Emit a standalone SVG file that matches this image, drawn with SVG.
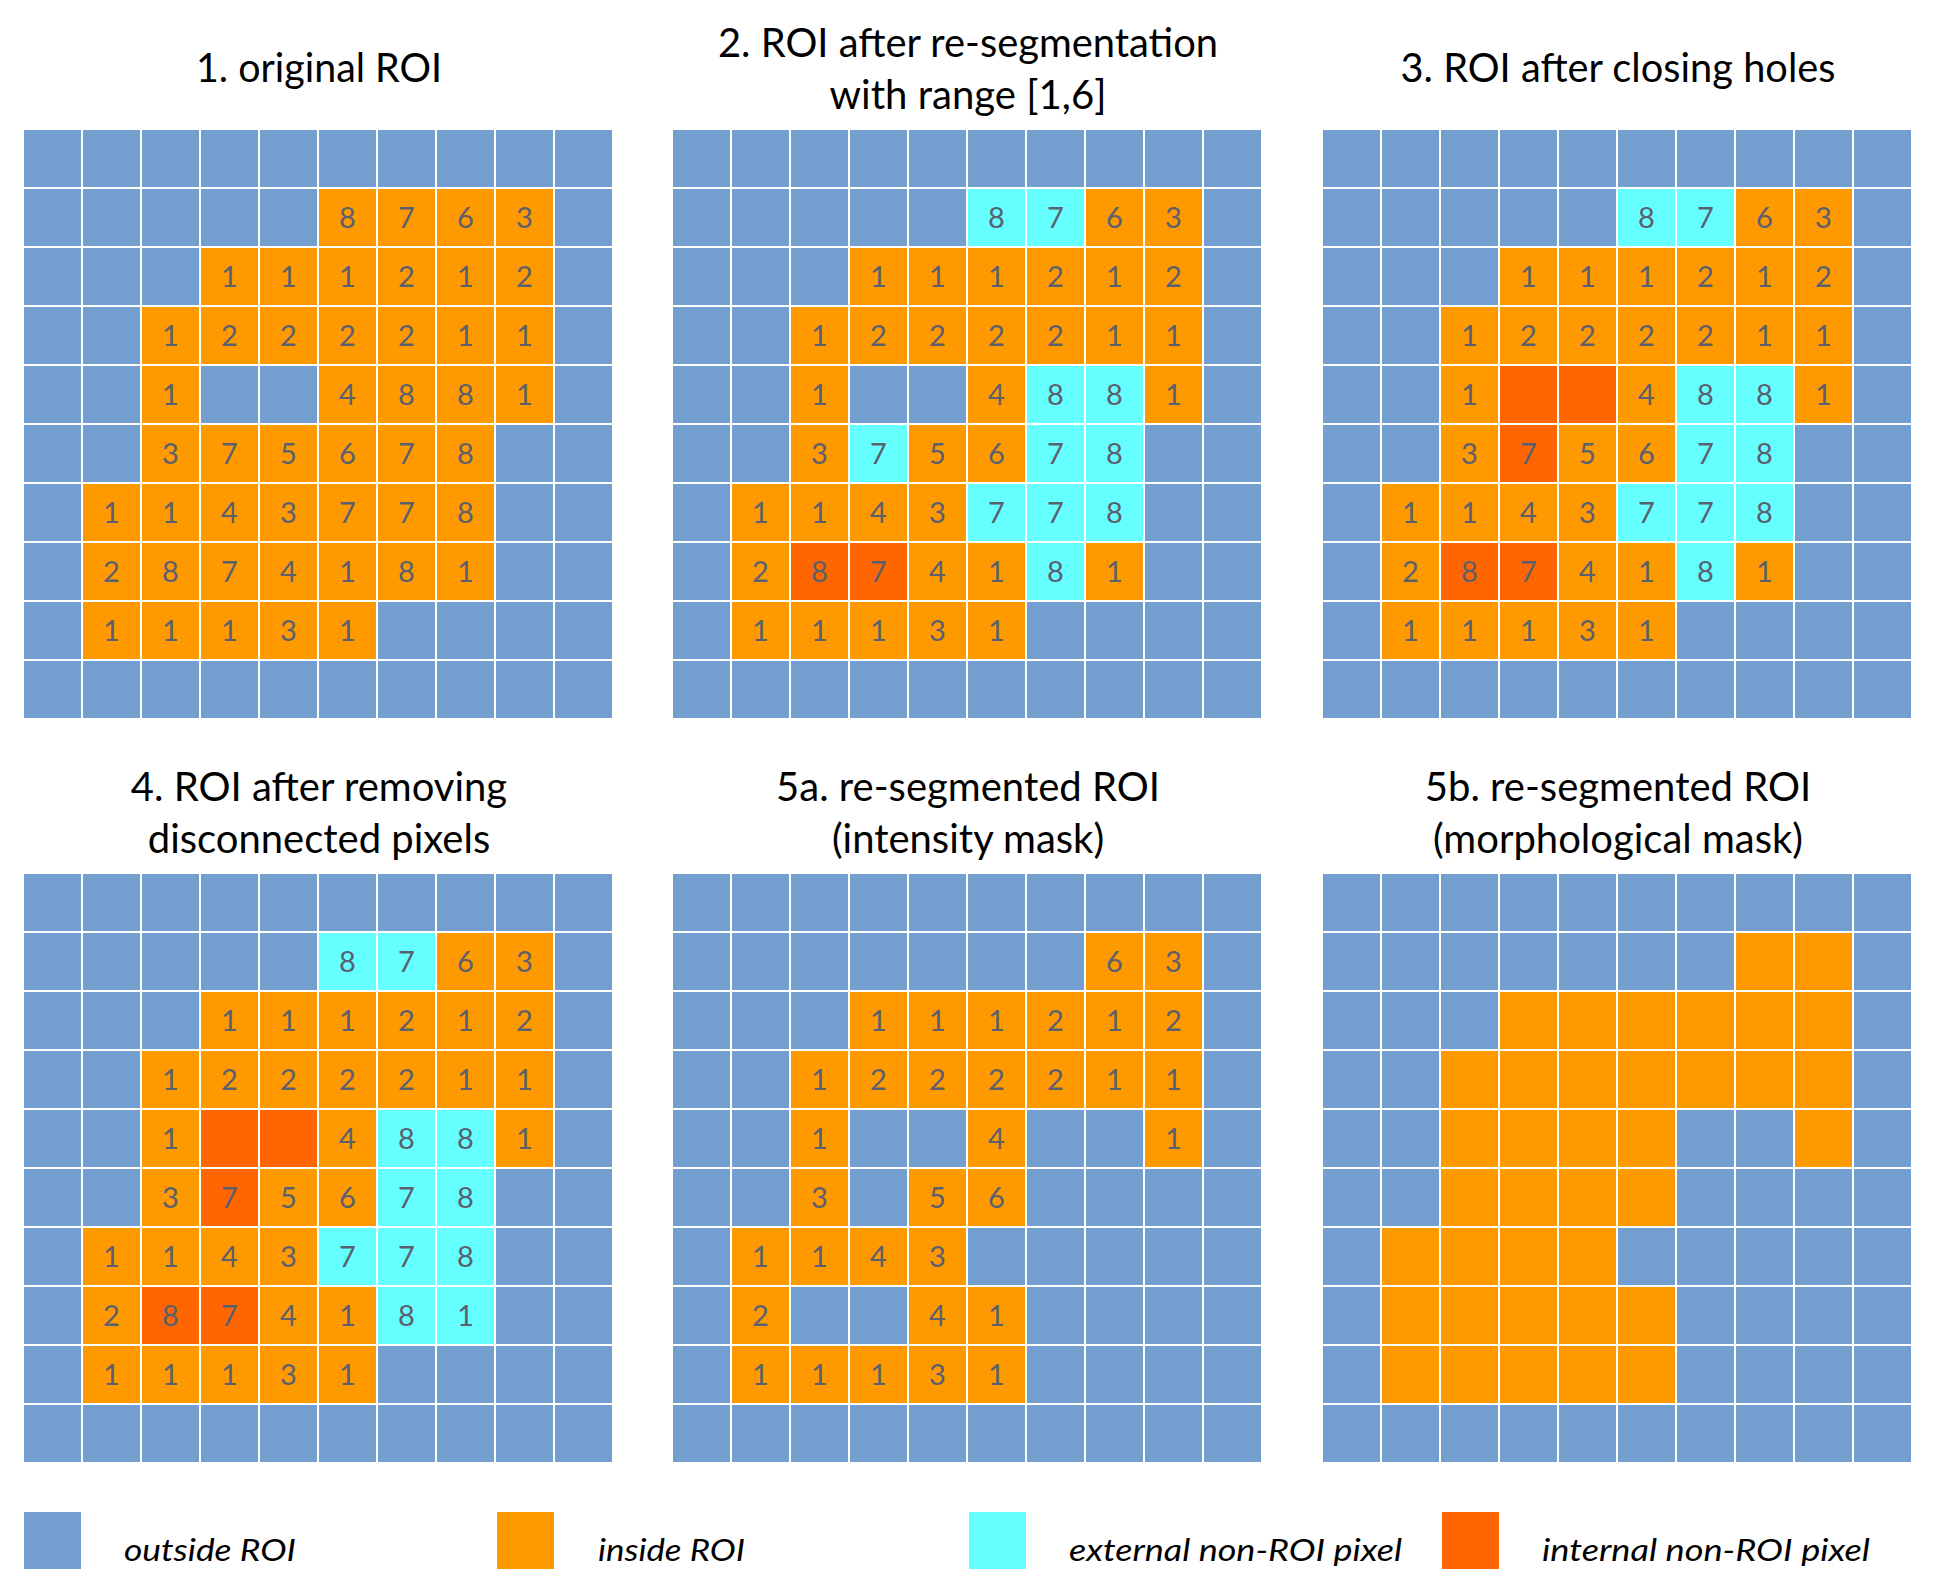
<svg xmlns="http://www.w3.org/2000/svg" xmlns:xlink="http://www.w3.org/1999/xlink" width="1937" height="1594" viewBox="0 0 1937 1594">
<style>
.t{font-family:Lato,"Liberation Sans",sans-serif;font-size:40px;fill:#000;text-anchor:middle}
.n{font-family:Lato,"Liberation Sans",sans-serif;font-size:29px;fill:#5a606d;text-anchor:middle}
.l{font-family:Lato,"Liberation Sans",sans-serif;font-size:31px;font-style:italic;fill:#000}
</style>
<defs>
<pattern id="grid" patternUnits="userSpaceOnUse" width="59" height="59"><rect width="57" height="57" fill="#729FCF"/></pattern>
<rect id="o" width="57" height="57" fill="#FF9900"/>
<rect id="c" width="57" height="57" fill="#66FFFF"/>
<rect id="r" width="57" height="57" fill="#FF6600"/>
<rect id="b" width="57" height="57" fill="#729FCF"/>
</defs>
<rect width="1937" height="1594" fill="#fff"/>

<g id="titles">
<text class="t" x="319" y="82" textLength="246" lengthAdjust="spacingAndGlyphs">1. original ROI</text>
<text class="t" x="968" y="57" textLength="500" lengthAdjust="spacingAndGlyphs">2. ROI after re-segmentation</text>
<text class="t" x="968" y="109" textLength="277" lengthAdjust="spacingAndGlyphs">with range [1,6]</text>
<text class="t" x="1618" y="82" textLength="435" lengthAdjust="spacingAndGlyphs">3. ROI after closing holes</text>
<text class="t" x="319" y="801">4. ROI after removing</text>
<text class="t" x="319" y="853">disconnected pixels</text>
<text class="t" x="968" y="801">5a. re-segmented ROI</text>
<text class="t" x="968" y="853">(intensity mask)</text>
<text class="t" x="1618" y="801">5b. re-segmented ROI</text>
<text class="t" x="1618" y="853">(morphological mask)</text>
</g>

<g id="panel1" transform="translate(24,130)">
<rect width="590" height="590" fill="url(#grid)"/>
<use href="#o" x="295" y="59"/><use href="#o" x="354" y="59"/><use href="#o" x="413" y="59"/><use href="#o" x="472" y="59"/>
<use href="#o" x="177" y="118"/><use href="#o" x="236" y="118"/><use href="#o" x="295" y="118"/><use href="#o" x="354" y="118"/><use href="#o" x="413" y="118"/><use href="#o" x="472" y="118"/>
<use href="#o" x="118" y="177"/><use href="#o" x="177" y="177"/><use href="#o" x="236" y="177"/><use href="#o" x="295" y="177"/><use href="#o" x="354" y="177"/><use href="#o" x="413" y="177"/><use href="#o" x="472" y="177"/>
<use href="#o" x="118" y="236"/><use href="#o" x="295" y="236"/><use href="#o" x="354" y="236"/><use href="#o" x="413" y="236"/><use href="#o" x="472" y="236"/>
<use href="#o" x="118" y="295"/><use href="#o" x="177" y="295"/><use href="#o" x="236" y="295"/><use href="#o" x="295" y="295"/><use href="#o" x="354" y="295"/><use href="#o" x="413" y="295"/>
<use href="#o" x="59" y="354"/><use href="#o" x="118" y="354"/><use href="#o" x="177" y="354"/><use href="#o" x="236" y="354"/><use href="#o" x="295" y="354"/><use href="#o" x="354" y="354"/><use href="#o" x="413" y="354"/>
<use href="#o" x="59" y="413"/><use href="#o" x="118" y="413"/><use href="#o" x="177" y="413"/><use href="#o" x="236" y="413"/><use href="#o" x="295" y="413"/><use href="#o" x="354" y="413"/><use href="#o" x="413" y="413"/>
<use href="#o" x="59" y="472"/><use href="#o" x="118" y="472"/><use href="#o" x="177" y="472"/><use href="#o" x="236" y="472"/><use href="#o" x="295" y="472"/>
<text class="n" x="323.5" y="98">8</text><text class="n" x="382.5" y="98">7</text><text class="n" x="441.5" y="98">6</text><text class="n" x="500.5" y="98">3</text>
<text class="n" x="205.5" y="157">1</text><text class="n" x="264.5" y="157">1</text><text class="n" x="323.5" y="157">1</text><text class="n" x="382.5" y="157">2</text><text class="n" x="441.5" y="157">1</text><text class="n" x="500.5" y="157">2</text>
<text class="n" x="146.5" y="216">1</text><text class="n" x="205.5" y="216">2</text><text class="n" x="264.5" y="216">2</text><text class="n" x="323.5" y="216">2</text><text class="n" x="382.5" y="216">2</text><text class="n" x="441.5" y="216">1</text><text class="n" x="500.5" y="216">1</text>
<text class="n" x="146.5" y="275">1</text><text class="n" x="323.5" y="275">4</text><text class="n" x="382.5" y="275">8</text><text class="n" x="441.5" y="275">8</text><text class="n" x="500.5" y="275">1</text>
<text class="n" x="146.5" y="334">3</text><text class="n" x="205.5" y="334">7</text><text class="n" x="264.5" y="334">5</text><text class="n" x="323.5" y="334">6</text><text class="n" x="382.5" y="334">7</text><text class="n" x="441.5" y="334">8</text>
<text class="n" x="87.5" y="393">1</text><text class="n" x="146.5" y="393">1</text><text class="n" x="205.5" y="393">4</text><text class="n" x="264.5" y="393">3</text><text class="n" x="323.5" y="393">7</text><text class="n" x="382.5" y="393">7</text><text class="n" x="441.5" y="393">8</text>
<text class="n" x="87.5" y="452">2</text><text class="n" x="146.5" y="452">8</text><text class="n" x="205.5" y="452">7</text><text class="n" x="264.5" y="452">4</text><text class="n" x="323.5" y="452">1</text><text class="n" x="382.5" y="452">8</text><text class="n" x="441.5" y="452">1</text>
<text class="n" x="87.5" y="511">1</text><text class="n" x="146.5" y="511">1</text><text class="n" x="205.5" y="511">1</text><text class="n" x="264.5" y="511">3</text><text class="n" x="323.5" y="511">1</text>
</g>

<g id="panel2" transform="translate(673,130)">
<rect width="590" height="590" fill="url(#grid)"/>
<use href="#c" x="295" y="59"/><use href="#c" x="354" y="59"/><use href="#o" x="413" y="59"/><use href="#o" x="472" y="59"/>
<use href="#o" x="177" y="118"/><use href="#o" x="236" y="118"/><use href="#o" x="295" y="118"/><use href="#o" x="354" y="118"/><use href="#o" x="413" y="118"/><use href="#o" x="472" y="118"/>
<use href="#o" x="118" y="177"/><use href="#o" x="177" y="177"/><use href="#o" x="236" y="177"/><use href="#o" x="295" y="177"/><use href="#o" x="354" y="177"/><use href="#o" x="413" y="177"/><use href="#o" x="472" y="177"/>
<use href="#o" x="118" y="236"/><use href="#o" x="295" y="236"/><use href="#c" x="354" y="236"/><use href="#c" x="413" y="236"/><use href="#o" x="472" y="236"/>
<use href="#o" x="118" y="295"/><use href="#c" x="177" y="295"/><use href="#o" x="236" y="295"/><use href="#o" x="295" y="295"/><use href="#c" x="354" y="295"/><use href="#c" x="413" y="295"/>
<use href="#o" x="59" y="354"/><use href="#o" x="118" y="354"/><use href="#o" x="177" y="354"/><use href="#o" x="236" y="354"/><use href="#c" x="295" y="354"/><use href="#c" x="354" y="354"/><use href="#c" x="413" y="354"/>
<use href="#o" x="59" y="413"/><use href="#r" x="118" y="413"/><use href="#r" x="177" y="413"/><use href="#o" x="236" y="413"/><use href="#o" x="295" y="413"/><use href="#c" x="354" y="413"/><use href="#o" x="413" y="413"/>
<use href="#o" x="59" y="472"/><use href="#o" x="118" y="472"/><use href="#o" x="177" y="472"/><use href="#o" x="236" y="472"/><use href="#o" x="295" y="472"/>
<text class="n" x="323.5" y="98">8</text><text class="n" x="382.5" y="98">7</text><text class="n" x="441.5" y="98">6</text><text class="n" x="500.5" y="98">3</text>
<text class="n" x="205.5" y="157">1</text><text class="n" x="264.5" y="157">1</text><text class="n" x="323.5" y="157">1</text><text class="n" x="382.5" y="157">2</text><text class="n" x="441.5" y="157">1</text><text class="n" x="500.5" y="157">2</text>
<text class="n" x="146.5" y="216">1</text><text class="n" x="205.5" y="216">2</text><text class="n" x="264.5" y="216">2</text><text class="n" x="323.5" y="216">2</text><text class="n" x="382.5" y="216">2</text><text class="n" x="441.5" y="216">1</text><text class="n" x="500.5" y="216">1</text>
<text class="n" x="146.5" y="275">1</text><text class="n" x="323.5" y="275">4</text><text class="n" x="382.5" y="275">8</text><text class="n" x="441.5" y="275">8</text><text class="n" x="500.5" y="275">1</text>
<text class="n" x="146.5" y="334">3</text><text class="n" x="205.5" y="334">7</text><text class="n" x="264.5" y="334">5</text><text class="n" x="323.5" y="334">6</text><text class="n" x="382.5" y="334">7</text><text class="n" x="441.5" y="334">8</text>
<text class="n" x="87.5" y="393">1</text><text class="n" x="146.5" y="393">1</text><text class="n" x="205.5" y="393">4</text><text class="n" x="264.5" y="393">3</text><text class="n" x="323.5" y="393">7</text><text class="n" x="382.5" y="393">7</text><text class="n" x="441.5" y="393">8</text>
<text class="n" x="87.5" y="452">2</text><text class="n" x="146.5" y="452">8</text><text class="n" x="205.5" y="452">7</text><text class="n" x="264.5" y="452">4</text><text class="n" x="323.5" y="452">1</text><text class="n" x="382.5" y="452">8</text><text class="n" x="441.5" y="452">1</text>
<text class="n" x="87.5" y="511">1</text><text class="n" x="146.5" y="511">1</text><text class="n" x="205.5" y="511">1</text><text class="n" x="264.5" y="511">3</text><text class="n" x="323.5" y="511">1</text>
</g>

<g id="panel3" transform="translate(1323,130)">
<rect width="590" height="590" fill="url(#grid)"/>
<use href="#c" x="295" y="59"/><use href="#c" x="354" y="59"/><use href="#o" x="413" y="59"/><use href="#o" x="472" y="59"/>
<use href="#o" x="177" y="118"/><use href="#o" x="236" y="118"/><use href="#o" x="295" y="118"/><use href="#o" x="354" y="118"/><use href="#o" x="413" y="118"/><use href="#o" x="472" y="118"/>
<use href="#o" x="118" y="177"/><use href="#o" x="177" y="177"/><use href="#o" x="236" y="177"/><use href="#o" x="295" y="177"/><use href="#o" x="354" y="177"/><use href="#o" x="413" y="177"/><use href="#o" x="472" y="177"/>
<use href="#o" x="118" y="236"/><use href="#r" x="177" y="236"/><use href="#r" x="236" y="236"/><use href="#o" x="295" y="236"/><use href="#c" x="354" y="236"/><use href="#c" x="413" y="236"/><use href="#o" x="472" y="236"/>
<use href="#o" x="118" y="295"/><use href="#r" x="177" y="295"/><use href="#o" x="236" y="295"/><use href="#o" x="295" y="295"/><use href="#c" x="354" y="295"/><use href="#c" x="413" y="295"/>
<use href="#o" x="59" y="354"/><use href="#o" x="118" y="354"/><use href="#o" x="177" y="354"/><use href="#o" x="236" y="354"/><use href="#c" x="295" y="354"/><use href="#c" x="354" y="354"/><use href="#c" x="413" y="354"/>
<use href="#o" x="59" y="413"/><use href="#r" x="118" y="413"/><use href="#r" x="177" y="413"/><use href="#o" x="236" y="413"/><use href="#o" x="295" y="413"/><use href="#c" x="354" y="413"/><use href="#o" x="413" y="413"/>
<use href="#o" x="59" y="472"/><use href="#o" x="118" y="472"/><use href="#o" x="177" y="472"/><use href="#o" x="236" y="472"/><use href="#o" x="295" y="472"/>
<text class="n" x="323.5" y="98">8</text><text class="n" x="382.5" y="98">7</text><text class="n" x="441.5" y="98">6</text><text class="n" x="500.5" y="98">3</text>
<text class="n" x="205.5" y="157">1</text><text class="n" x="264.5" y="157">1</text><text class="n" x="323.5" y="157">1</text><text class="n" x="382.5" y="157">2</text><text class="n" x="441.5" y="157">1</text><text class="n" x="500.5" y="157">2</text>
<text class="n" x="146.5" y="216">1</text><text class="n" x="205.5" y="216">2</text><text class="n" x="264.5" y="216">2</text><text class="n" x="323.5" y="216">2</text><text class="n" x="382.5" y="216">2</text><text class="n" x="441.5" y="216">1</text><text class="n" x="500.5" y="216">1</text>
<text class="n" x="146.5" y="275">1</text><text class="n" x="323.5" y="275">4</text><text class="n" x="382.5" y="275">8</text><text class="n" x="441.5" y="275">8</text><text class="n" x="500.5" y="275">1</text>
<text class="n" x="146.5" y="334">3</text><text class="n" x="205.5" y="334">7</text><text class="n" x="264.5" y="334">5</text><text class="n" x="323.5" y="334">6</text><text class="n" x="382.5" y="334">7</text><text class="n" x="441.5" y="334">8</text>
<text class="n" x="87.5" y="393">1</text><text class="n" x="146.5" y="393">1</text><text class="n" x="205.5" y="393">4</text><text class="n" x="264.5" y="393">3</text><text class="n" x="323.5" y="393">7</text><text class="n" x="382.5" y="393">7</text><text class="n" x="441.5" y="393">8</text>
<text class="n" x="87.5" y="452">2</text><text class="n" x="146.5" y="452">8</text><text class="n" x="205.5" y="452">7</text><text class="n" x="264.5" y="452">4</text><text class="n" x="323.5" y="452">1</text><text class="n" x="382.5" y="452">8</text><text class="n" x="441.5" y="452">1</text>
<text class="n" x="87.5" y="511">1</text><text class="n" x="146.5" y="511">1</text><text class="n" x="205.5" y="511">1</text><text class="n" x="264.5" y="511">3</text><text class="n" x="323.5" y="511">1</text>
</g>

<g id="panel4" transform="translate(24,874)">
<rect width="590" height="590" fill="url(#grid)"/>
<use href="#c" x="295" y="59"/><use href="#c" x="354" y="59"/><use href="#o" x="413" y="59"/><use href="#o" x="472" y="59"/>
<use href="#o" x="177" y="118"/><use href="#o" x="236" y="118"/><use href="#o" x="295" y="118"/><use href="#o" x="354" y="118"/><use href="#o" x="413" y="118"/><use href="#o" x="472" y="118"/>
<use href="#o" x="118" y="177"/><use href="#o" x="177" y="177"/><use href="#o" x="236" y="177"/><use href="#o" x="295" y="177"/><use href="#o" x="354" y="177"/><use href="#o" x="413" y="177"/><use href="#o" x="472" y="177"/>
<use href="#o" x="118" y="236"/><use href="#r" x="177" y="236"/><use href="#r" x="236" y="236"/><use href="#o" x="295" y="236"/><use href="#c" x="354" y="236"/><use href="#c" x="413" y="236"/><use href="#o" x="472" y="236"/>
<use href="#o" x="118" y="295"/><use href="#r" x="177" y="295"/><use href="#o" x="236" y="295"/><use href="#o" x="295" y="295"/><use href="#c" x="354" y="295"/><use href="#c" x="413" y="295"/>
<use href="#o" x="59" y="354"/><use href="#o" x="118" y="354"/><use href="#o" x="177" y="354"/><use href="#o" x="236" y="354"/><use href="#c" x="295" y="354"/><use href="#c" x="354" y="354"/><use href="#c" x="413" y="354"/>
<use href="#o" x="59" y="413"/><use href="#r" x="118" y="413"/><use href="#r" x="177" y="413"/><use href="#o" x="236" y="413"/><use href="#o" x="295" y="413"/><use href="#c" x="354" y="413"/><use href="#c" x="413" y="413"/>
<use href="#o" x="59" y="472"/><use href="#o" x="118" y="472"/><use href="#o" x="177" y="472"/><use href="#o" x="236" y="472"/><use href="#o" x="295" y="472"/>
<text class="n" x="323.5" y="98">8</text><text class="n" x="382.5" y="98">7</text><text class="n" x="441.5" y="98">6</text><text class="n" x="500.5" y="98">3</text>
<text class="n" x="205.5" y="157">1</text><text class="n" x="264.5" y="157">1</text><text class="n" x="323.5" y="157">1</text><text class="n" x="382.5" y="157">2</text><text class="n" x="441.5" y="157">1</text><text class="n" x="500.5" y="157">2</text>
<text class="n" x="146.5" y="216">1</text><text class="n" x="205.5" y="216">2</text><text class="n" x="264.5" y="216">2</text><text class="n" x="323.5" y="216">2</text><text class="n" x="382.5" y="216">2</text><text class="n" x="441.5" y="216">1</text><text class="n" x="500.5" y="216">1</text>
<text class="n" x="146.5" y="275">1</text><text class="n" x="323.5" y="275">4</text><text class="n" x="382.5" y="275">8</text><text class="n" x="441.5" y="275">8</text><text class="n" x="500.5" y="275">1</text>
<text class="n" x="146.5" y="334">3</text><text class="n" x="205.5" y="334">7</text><text class="n" x="264.5" y="334">5</text><text class="n" x="323.5" y="334">6</text><text class="n" x="382.5" y="334">7</text><text class="n" x="441.5" y="334">8</text>
<text class="n" x="87.5" y="393">1</text><text class="n" x="146.5" y="393">1</text><text class="n" x="205.5" y="393">4</text><text class="n" x="264.5" y="393">3</text><text class="n" x="323.5" y="393">7</text><text class="n" x="382.5" y="393">7</text><text class="n" x="441.5" y="393">8</text>
<text class="n" x="87.5" y="452">2</text><text class="n" x="146.5" y="452">8</text><text class="n" x="205.5" y="452">7</text><text class="n" x="264.5" y="452">4</text><text class="n" x="323.5" y="452">1</text><text class="n" x="382.5" y="452">8</text><text class="n" x="441.5" y="452">1</text>
<text class="n" x="87.5" y="511">1</text><text class="n" x="146.5" y="511">1</text><text class="n" x="205.5" y="511">1</text><text class="n" x="264.5" y="511">3</text><text class="n" x="323.5" y="511">1</text>
</g>

<g id="panel5a" transform="translate(673,874)">
<rect width="590" height="590" fill="url(#grid)"/>
<use href="#o" x="413" y="59"/><use href="#o" x="472" y="59"/>
<use href="#o" x="177" y="118"/><use href="#o" x="236" y="118"/><use href="#o" x="295" y="118"/><use href="#o" x="354" y="118"/><use href="#o" x="413" y="118"/><use href="#o" x="472" y="118"/>
<use href="#o" x="118" y="177"/><use href="#o" x="177" y="177"/><use href="#o" x="236" y="177"/><use href="#o" x="295" y="177"/><use href="#o" x="354" y="177"/><use href="#o" x="413" y="177"/><use href="#o" x="472" y="177"/>
<use href="#o" x="118" y="236"/><use href="#o" x="295" y="236"/><use href="#o" x="472" y="236"/>
<use href="#o" x="118" y="295"/><use href="#o" x="236" y="295"/><use href="#o" x="295" y="295"/>
<use href="#o" x="59" y="354"/><use href="#o" x="118" y="354"/><use href="#o" x="177" y="354"/><use href="#o" x="236" y="354"/>
<use href="#o" x="59" y="413"/><use href="#o" x="236" y="413"/><use href="#o" x="295" y="413"/>
<use href="#o" x="59" y="472"/><use href="#o" x="118" y="472"/><use href="#o" x="177" y="472"/><use href="#o" x="236" y="472"/><use href="#o" x="295" y="472"/>
<text class="n" x="441.5" y="98">6</text><text class="n" x="500.5" y="98">3</text>
<text class="n" x="205.5" y="157">1</text><text class="n" x="264.5" y="157">1</text><text class="n" x="323.5" y="157">1</text><text class="n" x="382.5" y="157">2</text><text class="n" x="441.5" y="157">1</text><text class="n" x="500.5" y="157">2</text>
<text class="n" x="146.5" y="216">1</text><text class="n" x="205.5" y="216">2</text><text class="n" x="264.5" y="216">2</text><text class="n" x="323.5" y="216">2</text><text class="n" x="382.5" y="216">2</text><text class="n" x="441.5" y="216">1</text><text class="n" x="500.5" y="216">1</text>
<text class="n" x="146.5" y="275">1</text><text class="n" x="323.5" y="275">4</text><text class="n" x="500.5" y="275">1</text>
<text class="n" x="146.5" y="334">3</text><text class="n" x="264.5" y="334">5</text><text class="n" x="323.5" y="334">6</text>
<text class="n" x="87.5" y="393">1</text><text class="n" x="146.5" y="393">1</text><text class="n" x="205.5" y="393">4</text><text class="n" x="264.5" y="393">3</text>
<text class="n" x="87.5" y="452">2</text><text class="n" x="264.5" y="452">4</text><text class="n" x="323.5" y="452">1</text>
<text class="n" x="87.5" y="511">1</text><text class="n" x="146.5" y="511">1</text><text class="n" x="205.5" y="511">1</text><text class="n" x="264.5" y="511">3</text><text class="n" x="323.5" y="511">1</text>
</g>

<g id="panel5b" transform="translate(1323,874)">
<rect width="590" height="590" fill="url(#grid)"/>
<use href="#o" x="413" y="59"/><use href="#o" x="472" y="59"/>
<use href="#o" x="177" y="118"/><use href="#o" x="236" y="118"/><use href="#o" x="295" y="118"/><use href="#o" x="354" y="118"/><use href="#o" x="413" y="118"/><use href="#o" x="472" y="118"/>
<use href="#o" x="118" y="177"/><use href="#o" x="177" y="177"/><use href="#o" x="236" y="177"/><use href="#o" x="295" y="177"/><use href="#o" x="354" y="177"/><use href="#o" x="413" y="177"/><use href="#o" x="472" y="177"/>
<use href="#o" x="118" y="236"/><use href="#o" x="177" y="236"/><use href="#o" x="236" y="236"/><use href="#o" x="295" y="236"/><use href="#o" x="472" y="236"/>
<use href="#o" x="118" y="295"/><use href="#o" x="177" y="295"/><use href="#o" x="236" y="295"/><use href="#o" x="295" y="295"/>
<use href="#o" x="59" y="354"/><use href="#o" x="118" y="354"/><use href="#o" x="177" y="354"/><use href="#o" x="236" y="354"/>
<use href="#o" x="59" y="413"/><use href="#o" x="118" y="413"/><use href="#o" x="177" y="413"/><use href="#o" x="236" y="413"/><use href="#o" x="295" y="413"/>
<use href="#o" x="59" y="472"/><use href="#o" x="118" y="472"/><use href="#o" x="177" y="472"/><use href="#o" x="236" y="472"/><use href="#o" x="295" y="472"/>
</g>

<g id="legend">
<use href="#b" x="24" y="1512"/>
<text class="l" x="124" y="1561" textLength="172" lengthAdjust="spacingAndGlyphs">outside ROI</text>
<use href="#o" x="497" y="1512"/>
<text class="l" x="598" y="1561" textLength="147" lengthAdjust="spacingAndGlyphs">inside ROI</text>
<use href="#c" x="969" y="1512"/>
<text class="l" x="1069" y="1561" textLength="333" lengthAdjust="spacingAndGlyphs">external non-ROI pixel</text>
<use href="#r" x="1442" y="1512"/>
<text class="l" x="1542" y="1561" textLength="328" lengthAdjust="spacingAndGlyphs">internal non-ROI pixel</text>
</g>
</svg>
